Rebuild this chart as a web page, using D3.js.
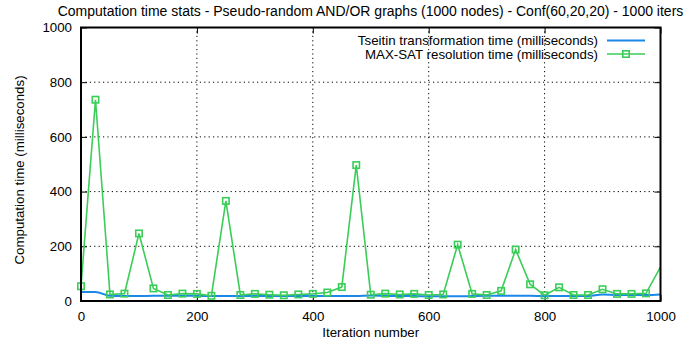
<!DOCTYPE html>
<html><head><meta charset="utf-8">
<script src="https://cdn.jsdelivr.net/npm/d3@7"></script>
<style>body{margin:0;background:#fff}svg{display:block}text{font-family:"Liberation Sans",Arial,sans-serif;fill:#000}</style>
</head><body><svg id="c" width="692" height="348"></svg>
<script>
const iterations = [0,25,50,75,100,125,150,175,200,225,250,275,300,325,350,375,400,425,450,475,500,525,550,575,600,625,650,675,700,725,750,775,800,825,850,875,900,925,950,975,1000];
const tseitinTime = [33,33,19,18,18,19,19,19,19,18,18,18,18,18,18,18,18,18,18,18,20,19,18,18,17,17,17,18,19,19,19,19,18,18,18,18,24,22,22,22,24];
const maxsatIter = [0,25,50,75,100,125,150,175,200,225,250,275,300,325,350,375,400,425,450,475,500,525,550,575,600,625,650,675,700,725,750,775,800,825,850,875,900,925,950,975,1025];
const maxsatTime = [54,736,24,27,247,46,22,27,26,19,366,22,26,23,21,24,26,31,51,497,23,27,24,26,22,24,206,26,22,37,188,61,21,50,22,22,43,26,26,28,220];
const xTicks = [0,200,400,600,800,1000];
const yTicks = [0,200,400,600,800,1000];
const title = "Computation time stats - Pseudo-random AND/OR graphs (1000 nodes) - Conf(60,20,20) - 1000 iters";
const xLabel = "Iteration number";
const yLabel = "Computation time (milliseconds)";
const legendLabels = ["Tseitin transformation time (milliseconds)", "MAX-SAT resolution time (milliseconds)"];
const colors = ["#1b87e8", "#3acd58"];

const L=81, R=660.5, T=27.5, B=301;
const FS="13.3px";
const M=6.4;
const svg = d3.select("#c");
const x = d3.scaleLinear().domain([0,1000]).range([L,R]);
const y = d3.scaleLinear().domain([0,1000]).range([B,T]);

svg.append("defs").append("clipPath").attr("id","clip")
  .append("rect").attr("x",L).attr("y",T).attr("width",R-L).attr("height",B-T);

// grid
const g = svg.append("g");
xTicks.slice(1,-1).forEach(v=>g.append("line").attr("x1",x(v)).attr("x2",x(v)).attr("y1",B).attr("y2",T)
  .attr("stroke","#000").attr("stroke-width",1).attr("stroke-dasharray","1.2,3.2"));
yTicks.slice(1,-1).forEach(v=>g.append("line").attr("x1",L).attr("x2",R).attr("y1",y(v)).attr("y2",y(v))
  .attr("stroke","#000").attr("stroke-width",1).attr("stroke-dasharray","1.2,3.2"));

// axes
const xa = svg.append("g").attr("transform",`translate(0,${B})`)
  .call(d3.axisBottom(x).tickValues(xTicks).tickSize(-6).tickPadding(11).tickFormat(d3.format("d")));
const xt = svg.append("g").attr("transform",`translate(0,${T})`)
  .call(d3.axisTop(x).tickValues(xTicks).tickSize(-6).tickFormat(""));
const ya = svg.append("g").attr("transform",`translate(${L},0)`)
  .call(d3.axisLeft(y).tickValues(yTicks).tickSize(-6).tickPadding(9).tickFormat(d3.format("d")));
const yr = svg.append("g").attr("transform",`translate(${R},0)`)
  .call(d3.axisRight(y).tickValues(yTicks).tickSize(-6).tickFormat(""));
[xa,xt,ya,yr].forEach(a=>{a.select(".domain").remove();a.selectAll("line").attr("stroke","#000").attr("stroke-width",1);
  a.selectAll("text").style("font-size",FS).attr("font-family",null);});

// lines
const lineT = d3.line().x((d,i)=>x(iterations[i])).y(d=>y(d)).curve(d3.curveMonotoneX);
svg.append("path").datum(tseitinTime).attr("d",lineT).attr("fill","none").attr("stroke",colors[0])
  .attr("stroke-width",2).attr("clip-path","url(#clip)");
const lineM = d3.line().x((d,i)=>x(maxsatIter[i])).y(d=>y(d));
svg.append("path").datum(maxsatTime).attr("d",lineM).attr("fill","none").attr("stroke",colors[1])
  .attr("stroke-width",1.6).attr("clip-path","url(#clip)");
const mk = maxsatTime.map((v,i)=>({x:maxsatIter[i],v})).filter(d=>d.x<=1000);
svg.append("g").selectAll("rect").data(mk).join("rect")
  .attr("x",d=>x(d.x)-M/2).attr("y",d=>y(d.v)-M/2).attr("width",M).attr("height",M)
  .attr("fill","none").attr("stroke",colors[1]).attr("stroke-width",1.6);

// frame
svg.append("rect").attr("x",L).attr("y",T).attr("width",R-L).attr("height",B-T)
  .attr("fill","none").attr("stroke","#000").attr("stroke-width",2);

// legend
const lg = svg.append("g");
legendLabels.forEach((t,i)=>{
  const yy = 40.5 + i*13.5;
  lg.append("text").attr("x",598).attr("y",yy+4.5).attr("text-anchor","end").style("font-size",FS).text(t);
  lg.append("line").attr("x1",607).attr("x2",645).attr("y1",yy).attr("y2",yy).attr("stroke",colors[i])
    .attr("stroke-width",i==0?2:1.6);
  if(i==1) lg.append("rect").attr("x",626-M/2).attr("y",yy-M/2).attr("width",M).attr("height",M)
    .attr("fill","none").attr("stroke",colors[1]).attr("stroke-width",1.6);
});

// titles
svg.append("text").attr("x",370.5).attr("y",16).attr("text-anchor","middle").style("font-size","14px").text(title);
svg.append("text").attr("x",(L+R)/2).attr("y",337).attr("text-anchor","middle").style("font-size",FS).text(xLabel);
svg.append("text").attr("transform",`translate(24,170) rotate(-90)`).attr("text-anchor","middle").style("font-size",FS).text(yLabel);
</script></body></html>
